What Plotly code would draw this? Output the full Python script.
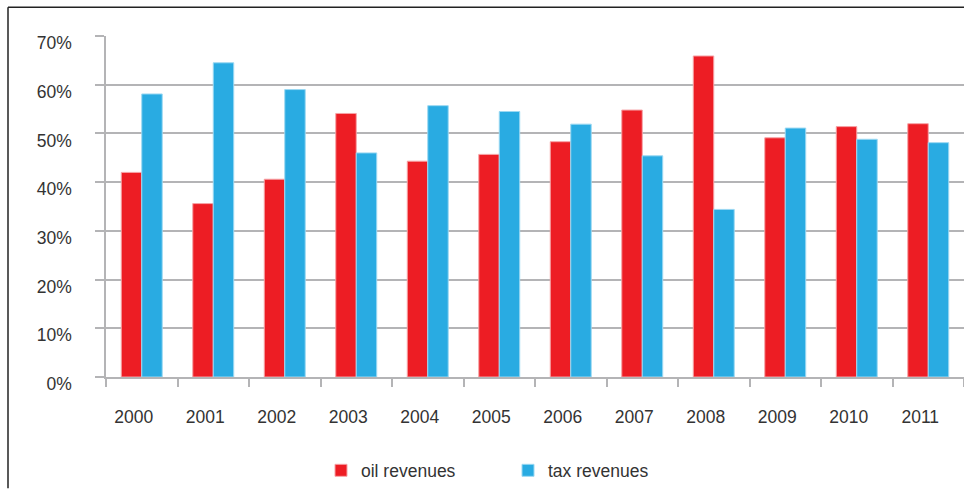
import plotly.graph_objects as go

# Revenue shares by year (percent of total)
years = ["2000", "2001", "2002", "2003", "2004", "2005",
         "2006", "2007", "2008", "2009", "2010", "2011"]
oil_revenues = [42.0, 35.6, 40.6, 54.1, 44.3, 45.7, 48.3, 54.8, 65.9, 49.1, 51.4, 52.0]
tax_revenues = [58.1, 64.5, 59.0, 46.0, 55.7, 54.5, 51.9, 45.4, 34.4, 51.1, 48.8, 48.1]
y_ticks = [0, 10, 20, 30, 40, 50, 60, 70]

RED = "#ED1D24"
BLUE = "#29ABE2"
GRID = "#B4B4B6"
TEXT = "#333333"
FONT = "Liberation Sans, Arial, sans-serif"
FS = 17.5

W, H = 964, 489
ML, MR, MT, MB = 106, 0, 36, 110
PW, PH = W - ML - MR, H - MT - MB


def px_x(x):
    return (x - ML) / PW


def px_y(y):
    return (H - MB - y) / PH


fig = go.Figure()
fig.add_trace(go.Bar(
    x=years, y=oil_revenues, name="oil revenues",
    marker=dict(color=RED, line=dict(color="#F6A3A6", width=1)),
))
fig.add_trace(go.Bar(
    x=years, y=tax_revenues, name="tax revenues",
    marker=dict(color=BLUE, line=dict(color="#9BD8F2", width=1)),
))

fig.update_layout(
    width=W, height=H,
    margin=dict(l=ML, r=MR, t=MT, b=MB, pad=0),
    paper_bgcolor="white", plot_bgcolor="white",
    barmode="group", bargap=0.427, bargroupgap=0,
    font=dict(family=FONT, size=FS, color=TEXT),
    showlegend=True,
    legend=dict(
        orientation="h", x=px_x(321), xanchor="left",
        y=px_y(473), yanchor="middle",
        font=dict(family=FONT, size=FS, color=TEXT),
        entrywidth=142, bgcolor="rgba(0,0,0,0)",
        traceorder="normal",
    ),
    xaxis=dict(
        type="category", range=[-0.5, 11.5],
        showline=True, linecolor=GRID, linewidth=1.5,
        ticks="outside", tickson="boundaries", ticklen=8,
        tickcolor=GRID, tickwidth=1.5,
        showgrid=False, ticklabelstandoff=23, ticklabelshift=-8,
        tickfont=dict(family=FONT, size=FS, color=TEXT),
    ),
    yaxis=dict(
        range=[0, 70], tickvals=y_ticks,
        ticktext=[f"{v}%" for v in y_ticks],
        showline=True, linecolor=GRID, linewidth=1.5,
        ticks="outside", ticklen=9, tickcolor=GRID, tickwidth=1.5,
        showgrid=True, gridcolor=GRID, gridwidth=1.5,
        zeroline=False, ticklabelstandoff=20, ticklabelshift=7,
        tickfont=dict(family=FONT, size=FS, color=TEXT),
    ),
    shapes=[
        dict(type="line", xref="paper", yref="paper",
             x0=px_x(8), x1=px_x(W + 2), y0=px_y(7), y1=px_y(7),
             line=dict(color="#222222", width=1.5)),
        dict(type="line", xref="paper", yref="paper",
             x0=px_x(8), x1=px_x(8), y0=px_y(7), y1=px_y(H + 2),
             line=dict(color="#222222", width=1.5)),
    ],
)

fig.write_html("out.html")
